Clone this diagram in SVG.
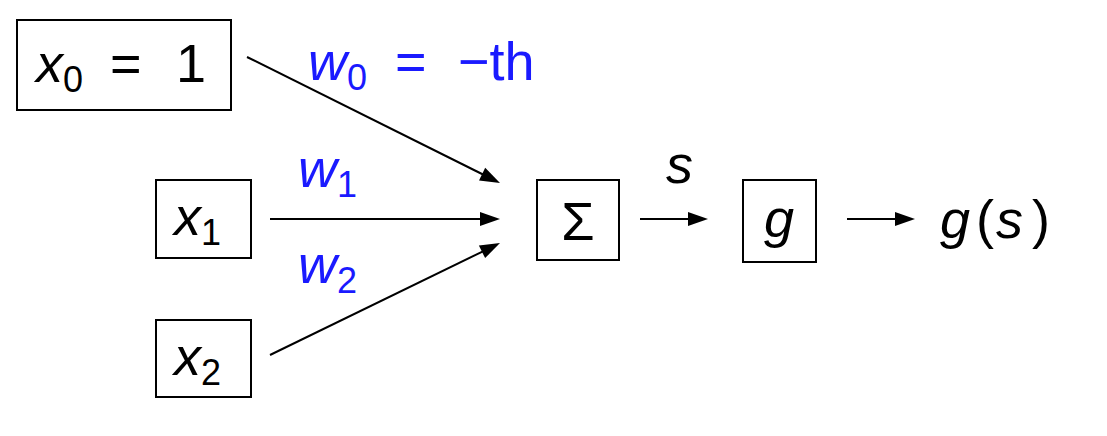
<svg xmlns="http://www.w3.org/2000/svg" width="1107" height="436" viewBox="0 0 1107 436">
<style>
.box{fill:#fff;stroke:#000;stroke-width:2}
.t{font-family:"Liberation Sans",Arial,sans-serif;font-size:54px;fill:#000}
.v{font-style:italic}
.sub{font-size:36px}
.b{fill:#1a1aff}
.ln{stroke:#000;stroke-width:2;fill:none}
</style>
<rect width="1107" height="436" fill="#fff"/>
<g id="connectors">
<line class="ln" x1="247" y1="57" x2="483" y2="174.5"/>
<path d="M500,183 L479,180.4 L485.2,167.8 z" fill="#000"/>
<line class="ln" x1="270" y1="219" x2="482" y2="219"/>
<path d="M500,219 l-20,-7 v14 z" fill="#000"/>
<line class="ln" x1="270" y1="355" x2="483" y2="251.3"/>
<path d="M500,243 L485.1,258.1 L478.9,245.5 z" fill="#000"/>
<line class="ln" x1="640" y1="219" x2="690" y2="219"/>
<path d="M708,219 l-20,-7 v14 z" fill="#000"/>
<line class="ln" x1="847" y1="219" x2="897" y2="219"/>
<path d="M915,219 l-20,-7 v14 z" fill="#000"/>
</g>
<g id="x0"><rect class="box" x="17" y="20" width="214" height="90"/><text class="t" x="36" y="82"><tspan class="v">x</tspan><tspan class="sub" dy="10">0</tspan><tspan dy="-10" x="110">=</tspan><tspan x="176">1</tspan></text></g>
<g id="x1"><rect class="box" x="156" y="180" width="95" height="78"/><text class="t" x="174" y="235"><tspan class="v">x</tspan><tspan class="sub" dy="10">1</tspan></text></g>
<g id="x2"><rect class="box" x="156" y="320" width="95" height="77"/><text class="t" x="174" y="375"><tspan class="v">x</tspan><tspan class="sub" dy="10">2</tspan></text></g>
<g id="sum"><rect class="box" x="537" y="180" width="82" height="80"/><text class="t" x="578" y="240" text-anchor="middle">Σ</text></g>
<g id="g"><rect class="box" x="743" y="180" width="73" height="82"/><text class="t v" x="779" y="237" text-anchor="middle">g</text></g>
<g id="labels">
<text class="t b" x="308" y="80"><tspan class="v">w</tspan><tspan class="sub" dy="10">0</tspan><tspan dy="-10" x="395">=</tspan><tspan x="458">−th</tspan></text>
<text class="t b" x="298" y="187"><tspan class="v">w</tspan><tspan class="sub" dy="10">1</tspan></text>
<text class="t b" x="298" y="283"><tspan class="v">w</tspan><tspan class="sub" dy="10">2</tspan></text>
<text class="t v" x="666" y="183">s</text>
<text class="t" x="940" y="238"><tspan class="v">g</tspan><tspan x="976">(</tspan><tspan class="v" x="996">s</tspan><tspan x="1032">)</tspan></text>
</g>
</svg>
